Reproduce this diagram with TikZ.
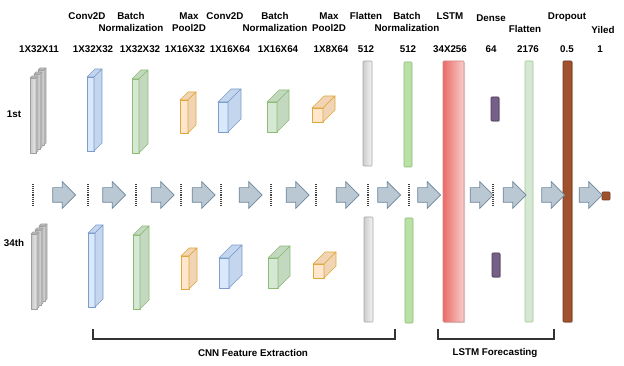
\documentclass[tikz,border=0pt]{standalone}
\usepackage{fontspec}
\setmainfont{Liberation Sans}
\usetikzlibrary{shapes.arrows,shadows}

\definecolor{convfill}{HTML}{DAE8FC}
\definecolor{convside}{HTML}{C4D5EE}
\definecolor{convline}{HTML}{7C9CCB}
\definecolor{bnfill}{HTML}{D5E8D4}
\definecolor{bnside}{HTML}{C2D9C0}
\definecolor{bnline}{HTML}{8DBB74}
\definecolor{poolfill}{HTML}{FFE6CC}
\definecolor{poolside}{HTML}{F0D4B4}
\definecolor{poolline}{HTML}{E0A83A}
\definecolor{arrfill}{HTML}{BAC8D3}
\definecolor{arrline}{HTML}{6F869A}
\definecolor{lstmdark}{HTML}{EA6B66}
\definecolor{lstmlight}{HTML}{F8CECC}
\definecolor{densefill}{HTML}{76608A}
\definecolor{dropfill}{HTML}{A0522D}
\definecolor{greenbar}{HTML}{B9E0A5}

% front face as a node, top and side faces on top of it
\newcommand{\cuboid}[7]{%
  \node[#7front, minimum width=#4, minimum height=#5, anchor=north west] (#1) at (#2,#3) {};
  \filldraw[#7side] (#1.north west) -- ++(#6,-#6) -- ++(#4,0) -- (#1.north east) -- cycle;
  \filldraw[#7side] (#1.north east) -- ++(#6,-#6) -- ++(0,#5) -- (#1.south east) -- cycle;
}

\begin{document}
\begin{tikzpicture}[x=1pt, y=-1pt,
    title/.style = {font=\fontsize{9.8}{12}\selectfont\bfseries, inner sep=0pt, align=center},
    face/.style = {line width=0.6pt, inner sep=0pt, outer sep=0pt, line join=round},
    bluefront/.style = {face, draw=convline, fill=convfill},
    blueside/.style = {face, draw=convline, fill=convside},
    greenfront/.style = {face, draw=bnline, fill=bnfill},
    greenside/.style = {face, draw=bnline, fill=bnside},
    orangefront/.style = {face, draw=poolline, fill=poolfill},
    orangeside/.style = {face, draw=poolline, fill=poolside},
    grayfront/.style = {face, draw=gray!75, left color=gray!45, right color=gray!15},
    grayside/.style = {face, draw=gray!75, fill=gray!50},
    bar/.style = {face, anchor=north west, rounded corners=0.8pt},
    blockarrow/.style = {single arrow, draw=arrline, fill=arrfill, line width=0.7pt,
      inner xsep=0pt, inner ysep=7pt, minimum height=23, single arrow head extend=6pt},
    dots/.style = {densely dotted, line width=1.1pt, black!75},
    brace/.style = {line width=1.1pt, black!80}]
  \useasboundingbox (0,0) rectangle (624,366);

  \node[title] (first) at (14,114) {1st};
  \node[title] (last) at (14,243) {34th};

  \foreach \r/\dx/\dy in {1/0/0, 34/1/156} {
    \begin{scope}[shift={(\dx,\dy)}]
      \cuboid{inc\r}{38}{70}{6}{75}{2}{gray}
      \cuboid{inb\r}{34}{74}{6}{75}{2}{gray}
      \cuboid{ina\r}{30}{78}{6}{75}{2}{gray}
      \cuboid{conva\r}{87}{77}{7}{74}{8}{blue}
      \cuboid{bna\r}{132}{79}{7}{74}{9}{green}
      \cuboid{poola\r}{180}{100}{8}{33}{8}{orange}
      \cuboid{convb\r}{218}{102}{10}{30}{13}{blue}
      \cuboid{bnb\r}{267}{102}{10}{30}{12}{green}
      \cuboid{poolb\r}{312}{108}{11}{14}{12}{orange}
      \node[bar, draw=gray!70, left color=gray!40, right color=gray!8,
        minimum width=9, minimum height=105] (flata\r) at (363,61) {};
      \node[bar, draw=bnline, fill=greenbar, minimum width=8, minimum height=105] (bnc\r) at (404,62) {};
      \node[bar, draw=densefill!60!black, fill=densefill, minimum width=8, minimum height=24,
        drop shadow={shadow xshift=1pt, shadow yshift=-1pt, opacity=0.35}] (dense\r) at (491,97) {};
    \end{scope}
  }

  \node[bar, draw=lstmdark!80!black!70, left color=lstmdark, right color=lstmlight,
    minimum width=21, minimum height=261,
    drop shadow={shadow xshift=1.2pt, shadow yshift=-1.2pt, opacity=0.3}] (lstm) at (443,61) {};
  \node[bar, draw=bnline!80, fill=bnfill, minimum width=8, minimum height=261] (flatb) at (525,61) {};
  \node[bar, draw=dropfill!70!black, fill=dropfill, minimum width=9, minimum height=261,
    drop shadow={shadow xshift=1pt, shadow yshift=-1pt, opacity=0.3}] (drop) at (563,61) {};
  \node[bar, draw=dropfill!70!black, fill=dropfill, minimum width=8, minimum height=8] (yield) at (602,192) {};

  \foreach \x in {33,88,136,181,221,271,316,368,409,493}
    \draw[dots] (\x,184) -- (\x,207);
  \foreach \x [count=\i] in {60.5,110.5,159,200,247,294,344,385.5,425.5,478,511,549.5,587}
    \node[blockarrow] (arr\i) at (\x,195) {};

  \node[title] (tconva) at (87,16) {Conv2D};
  \node[title] (tbna) at (131,22) {Batch\\Normalization};
  \node[title] (tpoola) at (189,22) {Max\\Pool2D};
  \node[title] (tconvb) at (225,16) {Conv2D};
  \node[title] (tbnb) at (275,22) {Batch\\Normalization};
  \node[title] (tpoolb) at (329,22) {Max\\Pool2D};
  \node[title] (tflata) at (366,16) {Flatten};
  \node[title] (tbnc) at (407,22) {Batch\\Normalization};
  \node[title] (tlstm) at (450,16) {LSTM};
  \node[title] (tdense) at (491,18) {Dense};
  \node[title] (tflatb) at (525,29) {Flatten};
  \node[title] (tdrop) at (567,17) {Dropout};
  \node[title] (tyield) at (603,30) {Yiled};

  \node[title] (sin) at (39,49) {1X32X11};
  \node[title] (sconva) at (93,49) {1X32X32};
  \node[title] (sbna) at (140,49) {1X32X32};
  \node[title] (spoola) at (185,49) {1X16X32};
  \node[title] (sconvb) at (230,49) {1X16X64};
  \node[title] (sbnb) at (278,49) {1X16X64};
  \node[title] (spoolb) at (331,49) {1X8X64};
  \node[title] (sflata) at (366,49) {512};
  \node[title] (sbnc) at (408,49) {512};
  \node[title] (slstm) at (450,49) {34X256};
  \node[title] (sdense) at (491,49) {64};
  \node[title] (sflatb) at (528,49) {2176};
  \node[title] (sdrop) at (567,49) {0.5};
  \node[title] (syield) at (600,49) {1};

  \draw[brace] (93,329) -- (93,339) -- (395,339) -- (395,329);
  \draw[brace] (438,329) -- (438,339) -- (554,339) -- (554,329);
  \node[title] (cnn) at (253,353) {CNN Feature Extraction};
  \node[title] (fore) at (495,353) {LSTM Forecasting};
\end{tikzpicture}
\end{document}
